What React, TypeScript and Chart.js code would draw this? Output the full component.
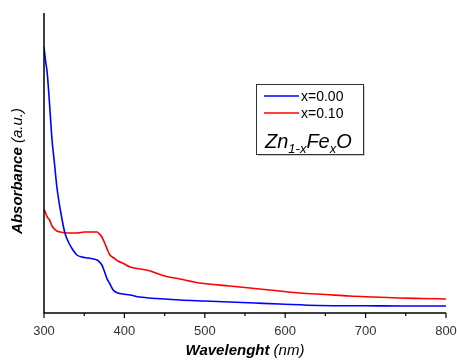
import React, { useEffect, useRef } from "react";
import { Chart, registerables } from "chart.js";

Chart.register(...registerables);

// Wavelength (nm) and absorbance (a.u.)
const waveBlue = [300, 302, 304, 307, 310, 313, 316, 321, 326, 331, 336, 341, 347, 355, 362, 366, 369, 372, 375, 378, 382, 386, 392, 398, 407, 419, 440, 469, 500, 531, 562, 593, 642, 700, 750, 800];
const absBlue = [2.66, 2.52, 2.4, 2.08, 1.73, 1.5, 1.26, 1.0, 0.8, 0.7, 0.63, 0.58, 0.56, 0.55, 0.54, 0.53, 0.51, 0.48, 0.42, 0.35, 0.29, 0.23, 0.2, 0.19, 0.18, 0.16, 0.145, 0.13, 0.12, 0.11, 0.1, 0.09, 0.075, 0.072, 0.07, 0.07];

const waveRed = [300, 302, 304, 307, 310, 313, 316, 320, 330, 341, 350, 357, 366, 369, 372, 376, 379, 382, 387, 392, 400, 407, 420, 432, 450, 469, 494, 531, 556, 593, 618, 650, 680, 710, 742, 770, 800];
const absRed = [1.04, 1.0, 0.96, 0.93, 0.87, 0.84, 0.82, 0.81, 0.8, 0.8, 0.81, 0.81, 0.81, 0.79, 0.76, 0.69, 0.63, 0.58, 0.55, 0.52, 0.49, 0.46, 0.44, 0.42, 0.37, 0.34, 0.3, 0.27, 0.25, 0.22, 0.2, 0.185, 0.17, 0.16, 0.15, 0.145, 0.14];

const seriesLabels = ["x=0.00", "x=0.10"];
const seriesColors = ["#0000FF", "#FF0000"];
const xTickValues = [300, 400, 500, 600, 700, 800];
const xMinorTicks = [350, 450, 550, 650, 750];

const FONT = "Arial, 'Liberation Sans', sans-serif";

const decorPlugin = {
  id: "decor",
  afterDraw(chart: any) {
    const ctx = chart.ctx;
    const area = chart.chartArea;
    const xs = chart.scales.x;
    ctx.save();
    // axis lines
    ctx.strokeStyle = "#000";
    ctx.lineWidth = 1.5;
    ctx.beginPath();
    ctx.moveTo(area.left, area.top);
    ctx.lineTo(area.left, area.bottom);
    ctx.lineTo(area.right, area.bottom);
    ctx.stroke();
    // ticks
    ctx.lineWidth = 1.2;
    ctx.beginPath();
    xTickValues.forEach((v) => {
      const px = xs.getPixelForValue(v);
      ctx.moveTo(px, area.bottom);
      ctx.lineTo(px, area.bottom + 5);
    });
    xMinorTicks.forEach((v) => {
      const px = xs.getPixelForValue(v);
      ctx.moveTo(px, area.bottom);
      ctx.lineTo(px, area.bottom + 3);
    });
    ctx.stroke();

    // x title
    ctx.fillStyle = "#000";
    ctx.textBaseline = "middle";
    const b1 = "Wavelenght";
    const b2 = " (nm)";
    ctx.font = `italic bold 15px ${FONT}`;
    const w1 = ctx.measureText(b1).width;
    ctx.font = `italic 15px ${FONT}`;
    const w2 = ctx.measureText(b2).width;
    const cx = 245;
    const sx = cx - (w1 + w2) / 2;
    ctx.textAlign = "left";
    ctx.font = `italic bold 15px ${FONT}`;
    ctx.fillText(b1, sx, 351);
    ctx.font = `italic 15px ${FONT}`;
    ctx.fillText(b2, sx + w1, 351);

    // y title
    ctx.save();
    ctx.translate(18, 171);
    ctx.rotate(-Math.PI / 2);
    const a1 = "Absorbance";
    const a2 = " (a.u.)";
    ctx.font = `italic bold 15px ${FONT}`;
    const aw1 = ctx.measureText(a1).width;
    ctx.font = `italic 15px ${FONT}`;
    const aw2 = ctx.measureText(a2).width;
    const ax = -(aw1 + aw2) / 2;
    ctx.font = `italic bold 15px ${FONT}`;
    ctx.fillText(a1, ax, 0);
    ctx.font = `italic 15px ${FONT}`;
    ctx.fillText(a2, ax + aw1, 0);
    ctx.restore();

    // legend box
    const lx = 256, ly = 84, lw = 107, lh = 70;
    ctx.fillStyle = "#ccc";
    ctx.fillRect(lx + 2, ly + 2, lw, lh);
    ctx.fillStyle = "#fff";
    ctx.fillRect(lx, ly, lw, lh);
    ctx.strokeStyle = "#333";
    ctx.lineWidth = 1;
    ctx.strokeRect(lx + 0.5, ly + 0.5, lw, lh);
    const rows = [96, 113];
    seriesLabels.forEach((lab, i) => {
      ctx.strokeStyle = seriesColors[i];
      ctx.lineWidth = 1.5;
      ctx.beginPath();
      ctx.moveTo(264, rows[i]);
      ctx.lineTo(299, rows[i]);
      ctx.stroke();
      ctx.fillStyle = "#000";
      ctx.font = `14px ${FONT}`;
      ctx.textAlign = "left";
      ctx.textBaseline = "middle";
      ctx.fillText(lab, 301, rows[i] + 1);
    });
    // Zn1-xFexO
    ctx.fillStyle = "#000";
    ctx.textBaseline = "alphabetic";
    let tx = 265;
    const base = 148;
    const big = `italic 20px ${FONT}`;
    const small = `italic 13px ${FONT}`;
    const parts: [string, string, number][] = [
      ["Zn", big, 0],
      ["1-x", small, 5],
      ["Fe", big, 0],
      ["x", small, 5],
      ["O", big, 0],
    ];
    parts.forEach(([t, f, dy]) => {
      ctx.font = f;
      ctx.fillText(t, tx, base + dy);
      tx += ctx.measureText(t).width;
    });
    ctx.restore();
  },
};

export default function App() {
  const ref = useRef<HTMLCanvasElement>(null);
  useEffect(() => {
    const blue = waveBlue.map((x, i) => ({ x, y: absBlue[i] }));
    const red = waveRed.map((x, i) => ({ x, y: absRed[i] }));
    const chart = new Chart(ref.current!, {
      type: "line",
      data: {
        datasets: [
          { label: seriesLabels[0], data: blue, borderColor: seriesColors[0], borderWidth: 1.6, pointRadius: 0, cubicInterpolationMode: "monotone" },
          { label: seriesLabels[1], data: red, borderColor: seriesColors[1], borderWidth: 1.6, pointRadius: 0, cubicInterpolationMode: "monotone" },
        ],
      },
      options: {
        animation: false,
        responsive: false,
        maintainAspectRatio: false,
        layout: { padding: { left: 44, top: 13, right: 11, bottom: 0 } },
        plugins: { legend: { display: false }, tooltip: { enabled: false } },
        scales: {
          x: {
            type: "linear",
            min: 300,
            max: 800,
            afterBuildTicks: (s: any) => {
              s.ticks = xTickValues.map((v) => ({ value: v }));
            },
            afterFit: (s: any) => {
              s.height = 47;
              s.paddingLeft = 0;
              s.paddingRight = 0;
            },
            grid: { display: false },
            border: { display: false },
            ticks: {
              color: "#333",
              font: { family: FONT, size: 13 },
              padding: 3,
              maxRotation: 0,
              autoSkip: false,
            },
          },
          y: {
            min: 0,
            max: 3,
            afterFit: (s: any) => {
              s.width = 0;
              s.paddingTop = 0;
              s.paddingBottom = 0;
            },
            grid: { display: false },
            border: { display: false },
            ticks: { display: false },
          },
        },
      },
      plugins: [decorPlugin],
    } as any);
    return () => chart.destroy();
  }, []);
  return (
    <div style={{ position: "absolute", left: 0, top: 0, width: 457, height: 360 }}>
      <canvas ref={ref} width={457} height={360} style={{ width: 457, height: 360 }} />
    </div>
  );
}
